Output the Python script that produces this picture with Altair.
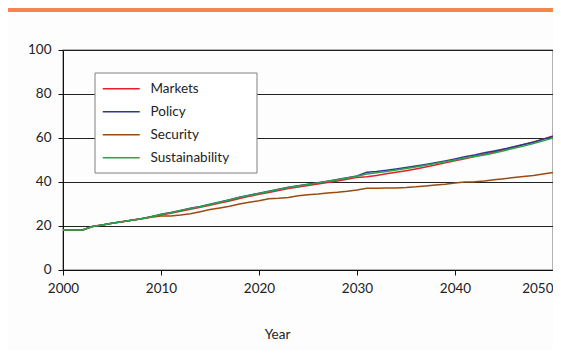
import altair as alt
import pandas as pd

years = list(range(2000, 2051))
series_names = ["Markets", "Policy", "Security", "Sustainability"]
series_colors = ["#E8202A", "#2B3990", "#9A4B12", "#2BA24C"]

markets = [18.2, 18.2, 18.2, 19.8, 20.5, 21.2, 21.9, 22.6, 23.3, 24.2,
           25.0, 25.8, 26.7, 27.6, 28.5, 29.4, 30.4, 31.4, 32.5, 33.5,
           34.4, 35.2, 36.1, 37.0, 37.7, 38.4, 39.1, 39.8, 40.5, 41.3,
           42.1, 42.4, 43.0, 43.7, 44.4, 45.1, 45.9, 46.8, 47.7, 48.7,
           49.7, 50.6, 51.6, 52.6, 53.6, 54.8, 55.9, 57.0, 58.2, 59.5, 60.9]
policy = [18.2, 18.2, 18.2, 19.8, 20.5, 21.2, 21.9, 22.6, 23.3, 24.2,
          25.3, 26.1, 27.1, 28.1, 28.9, 29.9, 30.9, 31.9, 33.1, 34.0,
          34.9, 35.8, 36.7, 37.6, 38.3, 39.0, 39.7, 40.4, 41.1, 41.9,
          42.7, 44.4, 44.8, 45.3, 45.9, 46.6, 47.3, 48.0, 48.8, 49.6,
          50.5, 51.5, 52.3, 53.3, 54.1, 55.0, 56.0, 57.0, 58.1, 59.4, 60.7]
security = [18.2, 18.2, 18.2, 19.8, 20.5, 21.2, 21.9, 22.6, 23.3, 24.0,
            24.5, 24.6, 25.0, 25.6, 26.5, 27.5, 28.2, 29.0, 30.0, 30.8,
            31.5, 32.4, 32.6, 33.0, 33.8, 34.2, 34.5, 35.0, 35.3, 35.8,
            36.4, 37.2, 37.2, 37.3, 37.3, 37.5, 37.8, 38.2, 38.6, 39.0,
            39.5, 40.0, 40.1, 40.5, 41.0, 41.5, 42.0, 42.5, 43.0, 43.6, 44.3]
sustainability = [18.2, 18.2, 18.2, 19.8, 20.5, 21.2, 21.9, 22.6, 23.3, 24.2,
                  25.2, 26.0, 27.0, 28.0, 28.8, 29.8, 30.8, 31.8, 33.0, 33.9,
                  34.8, 35.7, 36.6, 37.5, 38.2, 38.9, 39.6, 40.3, 41.0, 41.8,
                  42.6, 43.6, 44.2, 44.8, 45.5, 46.1, 46.8, 47.6, 48.4, 49.2,
                  50.0, 50.9, 51.6, 52.3, 53.2, 54.2, 55.3, 56.3, 57.5, 58.7, 60.0]

x_ticks = [2000, 2010, 2020, 2030, 2040, 2050]
y_ticks = [0, 20, 40, 60, 80, 100]

rows = []
for name, vals in zip(series_names, [markets, policy, security, sustainability]):
    for yr, v in zip(years, vals):
        rows.append({"Year": yr, "Value": v, "Scenario": name})
df = pd.DataFrame(rows)

FONT = "Lato"
W, H = 490, 220
one = pd.DataFrame({"a": [0]})

# decorations: orange header band and legend frame
header = alt.Chart(one).mark_rect(color="#F5854F").encode(
    x=alt.value(-55), x2=alt.value(W), y=alt.value(-42), y2=alt.value(-38)
)
legend_box = alt.Chart(one).mark_rect(fill="white", stroke="#808080", strokeWidth=1).encode(
    x=alt.value(32), x2=alt.value(194), y=alt.value(23), y2=alt.value(123)
)

lines = alt.Chart(df).mark_line(strokeWidth=1.5).encode(
    x=alt.X("Year:Q",
            scale=alt.Scale(domain=[2000, 2050], nice=False, zero=False),
            axis=alt.Axis(values=x_ticks, format="d", title="Year", grid=False,
                          labelFlush=False,
                          labelAlign={"condition": {"test": "datum.value == 2050", "value": "right"},
                                      "value": "center"},
                          domainColor="#111", tickColor="#111", tickSize=5,
                          labelPadding=6, labelFontSize=13.5, labelColor="#222",
                          labelFont=FONT, titleFont=FONT, titleFontSize=13.5,
                          titleFontWeight="normal", titleColor="#222",
                          titleX=214, titleY=68, titleBaseline="alphabetic",
                          titleAnchor="start", titleAlign="center")),
    y=alt.Y("Value:Q",
            scale=alt.Scale(domain=[0, 100], nice=False),
            axis=alt.Axis(values=y_ticks, title=None, grid=True, gridColor="#222",
                          gridWidth=1, domainColor="#111", tickColor="#111",
                          tickSize=5, labelPadding=7, labelFontSize=13.5,
                          labelColor="#222", labelFont=FONT, labelOffset=-1)),
    color=alt.Color("Scenario:N",
                    scale=alt.Scale(domain=series_names, range=series_colors),
                    legend=alt.Legend(title=None, orient="none", legendX=32, legendY=24,
                                      padding=8, symbolType="M-3.5,0L15,0", symbolSize=16,
                                      symbolStrokeWidth=1.5, labelOffset=34,
                                      labelFont=FONT, labelFontSize=13.5, labelColor="#222",
                                      rowPadding=8, strokeColor="transparent"))
)

chart = alt.layer(header, legend_box, lines).properties(
    width=W, height=H,
    autosize=alt.AutoSizeParams(type="none"),
    padding={"left": 55, "top": 42, "right": 0, "bottom": 80},
    background="#FDFDFD",
).configure_view(stroke="#999", strokeWidth=1.5)

chart.save("out.html", embed_options={"renderer": "svg", "actions": False})
